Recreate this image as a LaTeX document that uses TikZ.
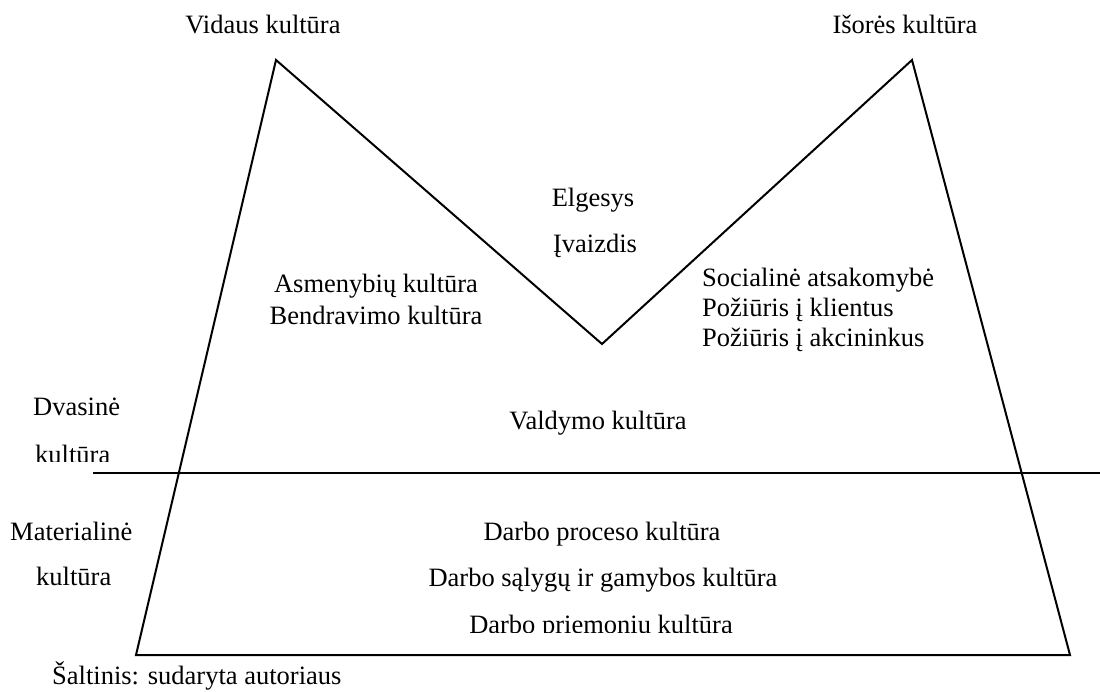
\documentclass[tikz,border=0pt]{standalone}
\usepackage{fontspec}
\setmainfont{Liberation Serif}
\begin{document}
\begin{tikzpicture}[x=1pt,y=-1pt,
  lbl/.style={inner sep=0pt,anchor=base,font=\fontsize{26.5}{32}\selectfont},
  lblw/.style={lbl,anchor=base west},
  outline/.style={line width=2pt,line join=miter}]
\useasboundingbox[fill=white] (0,0) rectangle (1100,691);
% shape corners
\coordinate (bl) at (136,655);
\coordinate (tl) at (276,60);
\coordinate (v) at (602,344);
\coordinate (tr) at (912,60);
\coordinate (br) at (1070,655);
\coordinate (hl) at (93,473);
\coordinate (hr) at (1100,473);
\draw[outline] (bl) -- (tl) -- (v) -- (tr) -- (br) -- cycle;
\draw[outline] (hl) -- (hr);
% labels
\node[lbl] (vid) at (263,33) {Vidaus kultūra};
\node[lbl] (isr) at (905,33) {Išorės kultūra};
\node[lbl] (elg) at (593,206) {Elgesys};
\node[lbl] (ivz) at (595,252) {Įvaizdis};
\node[lbl] (asm) at (376,292) {Asmenybių kultūra};
\node[lbl] (bnd) at (376,324) {Bendravimo kultūra};
\node[lblw] (soc) at (702,286) {Socialinė atsakomybė};
\node[lblw] (pk) at (702,316) {Požiūris į klientus};
\node[lblw] (pa) at (702,346) {Požiūris į akcininkus};
\node[lbl] (vald) at (598,429) {Valdymo kultūra};
\node[lblw] (dv) at (33,415) {Dvasinė};
\begin{scope}
  \clip (0,0) rectangle (1100,461);
  \node[lblw] (dvk) at (35,463) {kultūra};
\end{scope}
\node[lblw] (mat) at (10,540) {Materialinė};
\node[lblw] (matk) at (36,585) {kultūra};
\node[lbl] (dpk) at (602,540) {Darbo proceso kultūra};
\node[lbl] (dsk) at (603,586) {Darbo sąlygų ir gamybos kultūra};
\begin{scope}
  \clip (0,0) rectangle (1100,632);
  \node[lbl] (dprk) at (601,633) {Darbo priemonių kultūra};
\end{scope}
\node[lblw] (salt) at (52,684) {Šaltinis: sudaryta autoriaus};
\end{tikzpicture}
\end{document}
